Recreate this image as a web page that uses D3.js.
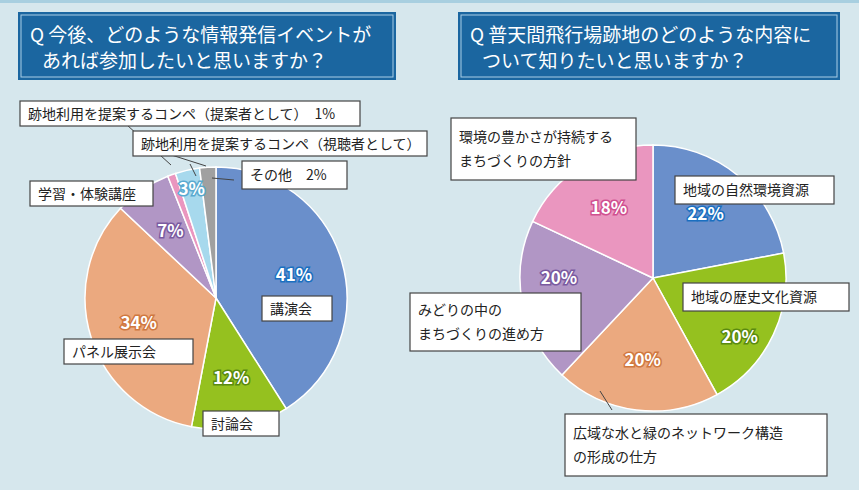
<!DOCTYPE html>
<html><head><meta charset="utf-8">
<script src="https://cdn.jsdelivr.net/npm/d3@7"></script>
<style>body{margin:0;background:#d6e7ed;font-family:"Noto Sans CJK JP",sans-serif}</style>
</head><body>
<svg id="c" width="859" height="490"></svg>
<script>
// left chart data
var leftNames = ["講演会","討論会","パネル展示会","学習・体験講座","提案者","視聴者","その他"];
var leftValues = [41,12,34,7,1,3,2];
var leftColors = ["#6a8fcb","#95c11f","#eba97f","#b196c5","#ea96bf","#a7d9ed","#a0a0a0"];
var leftPct = ["41%","12%","34%","7%","","3%",""];
// right chart data
var rightNames = ["地域の自然環境資源","地域の歴史文化資源","広域な水と緑のネットワーク構造の形成の仕方","みどりの中のまちづくりの進め方","環境の豊かさが持続するまちづくりの方針"];
var rightValues = [22,20,20,20,18];
var rightColors = ["#6a8fcb","#95c11f","#eba97f","#b196c5","#ea96bf"];

var svg = d3.select("#c");
svg.append("rect").attr("width",859).attr("height",3).attr("fill","#a8cfe0");

function title(x,y,w,h,lines){
  var g = svg.append("g");
  g.append("rect").attr("x",x).attr("y",y).attr("width",w).attr("height",h).attr("fill","#1b66a0");
  g.append("rect").attr("x",x+3).attr("y",y+3).attr("width",w-6).attr("height",h-6).attr("fill","none").attr("stroke","#a9cde6").attr("stroke-width",1);
  lines.forEach(function(t,i){
    g.append("text").attr("x",x+(i?24:12)).attr("y",y+30+i*26).attr("fill","#fff").attr("font-size",19).text(t);
  });
}
title(18,12,378,68,["Q 今後、どのような情報発信イベントが","あれば参加したいと思いますか？"]);
title(458,12,382,68,["Q 普天間飛行場跡地のどのような内容に","ついて知りたいと思いますか？"]);

function pie(cx,cy,r,values,colors){
  var arcs = d3.pie().sort(null)(values);
  var arc = d3.arc().innerRadius(0).outerRadius(r);
  var g = svg.append("g").attr("transform","translate("+cx+","+cy+")");
  g.selectAll("path").data(arcs).enter().append("path")
    .attr("d",arc).attr("fill",function(d,i){return colors[i];})
    .attr("stroke","#fff").attr("stroke-width",1.5);
  return {arcs:arcs,g:g,r:r};
}
function pct(p,i,text,dr,color,dy){
  var c = d3.arc().innerRadius(p.r*dr).outerRadius(p.r*dr).centroid(p.arcs[i]);
  p.g.append("text").attr("x",c[0]).attr("y",c[1]+6+(dy||0)).attr("text-anchor","middle")
    .attr("font-size",17).attr("font-weight","bold").attr("fill","#fff")
    .attr("stroke",color).attr("stroke-width",3).attr("paint-order","stroke").text(text);
}
function box(x,y,w,h,lines,fs){
  svg.append("rect").attr("x",x).attr("y",y).attr("width",w).attr("height",h)
    .attr("fill","#fff").attr("stroke","#444").attr("stroke-width",1.2);
  lines.forEach(function(t,i){
    svg.append("text").attr("x",x+8).attr("y",y+h/2+5+(i-(lines.length-1)/2)*24)
      .attr("font-size",fs||14).attr("fill","#222").text(t);
  });
}
function line(pts){
  svg.append("path").attr("d",d3.line()(pts)).attr("fill","none").attr("stroke","#444").attr("stroke-width",1);
}

var L = pie(216,298,131,leftValues,leftColors);
var lc = ["#1a6fc0","#5a8a10","#d07840","#7a5aa0","","#5aaad0",""];
leftPct.forEach(function(t,i){ if(t) pct(L,i,t,i==5?0.85:0.62,lc[i]); });
line([[127,125],[171,165]]); line([[162,152],[206,166]]);
line([[190,164],[196,176]]);
line([[212,178],[234,180]]);
box(20,101,340,25,["跡地利用を提案するコンペ（提案者として）　1%"]);
box(133,131,294,25,["跡地利用を提案するコンペ（視聴者として）"]);
box(242,161,105,28,["その他　2%"]);
box(30,181,123,25,["学習・体験講座"]);
box(262,296,70,25,["講演会"]);
box(64,339,129,25,["パネル展示会"]);
box(203,411,76,25,["討論会"]);

var R = pie(653,278,133,rightValues,rightColors);
var rc = ["#1a6fc0","#5a8a10","#d07840","#7a5aa0","#d05090"];
var rdr = [0.62,0.72,0.62,0.72,0.62];
var rdy = [0,18,0,-18,0];
rightValues.forEach(function(v,i){ pct(R,i,v+"%",rdr[i],rc[i],rdy[i]); });
line([[600,391],[612,410]]);
box(675,176,159,28,["地域の自然環境資源"]);
box(683,283,166,28,["地域の歴史文化資源"]);
box(410,293,171,58,["みどりの中の","まちづくりの進め方"]);
box(451,118,185,62,["環境の豊かさが持続する","まちづくりの方針"]);
box(565,414,262,62,["広域な水と緑のネットワーク構造","の形成の仕方"]);
</script>
</body></html>
